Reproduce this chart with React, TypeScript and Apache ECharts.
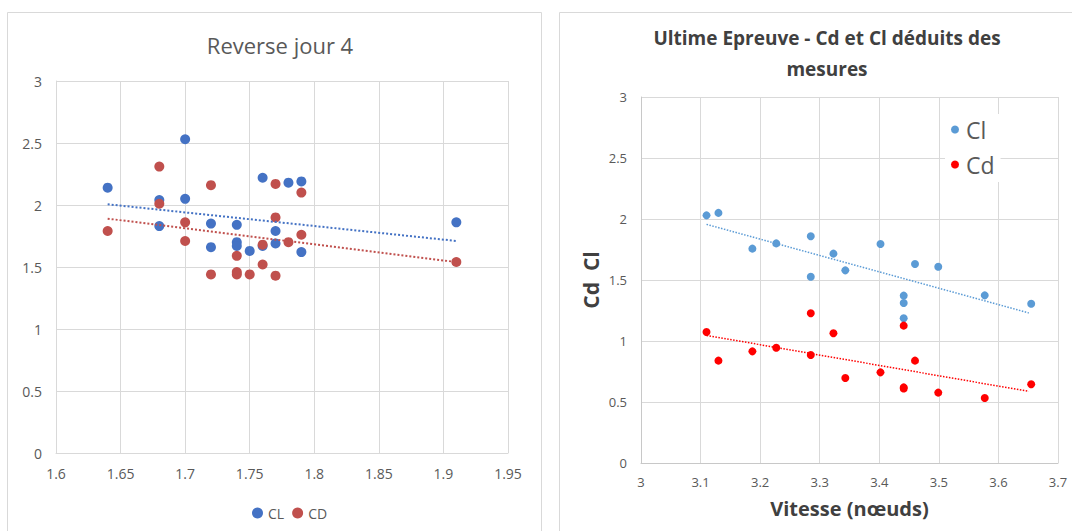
import React, { useEffect, useRef } from "react";
import * as echarts from "echarts";

// Left chart: "Reverse jour 4"
const leftClX = [1.64, 1.68, 1.68, 1.7, 1.7, 1.72, 1.72, 1.74, 1.74, 1.74, 1.75, 1.76, 1.76, 1.77, 1.77, 1.78, 1.79, 1.79, 1.91];
const leftClY = [2.14, 2.04, 1.83, 2.53, 2.05, 1.85, 1.66, 1.84, 1.7, 1.67, 1.63, 2.22, 1.67, 1.79, 1.69, 2.18, 2.19, 1.62, 1.86];
const leftCdX = [1.64, 1.68, 1.68, 1.7, 1.7, 1.72, 1.72, 1.74, 1.74, 1.74, 1.75, 1.76, 1.76, 1.77, 1.77, 1.77, 1.78, 1.79, 1.79, 1.91];
const leftCdY = [1.79, 2.31, 2.01, 1.86, 1.71, 2.16, 1.44, 1.59, 1.46, 1.44, 1.44, 1.68, 1.52, 2.17, 1.9, 1.43, 1.7, 2.1, 1.76, 1.54];
const leftClTrendX = [1.64, 1.91];
const leftClTrendY = [2.006, 1.71];
const leftCdTrendX = [1.64, 1.91];
const leftCdTrendY = [1.89, 1.54];

// Right chart: "Ultime Epreuve"
const rightClX = [3.11, 3.13, 3.187, 3.227, 3.285, 3.285, 3.323, 3.343, 3.402, 3.441, 3.441, 3.441, 3.46, 3.499, 3.577, 3.655];
const rightClY = [2.03, 2.05, 1.757, 1.8, 1.858, 1.527, 1.716, 1.579, 1.795, 1.372, 1.311, 1.186, 1.631, 1.609, 1.374, 1.306];
const rightCdX = [3.11, 3.13, 3.187, 3.227, 3.285, 3.285, 3.323, 3.343, 3.402, 3.441, 3.441, 3.441, 3.46, 3.499, 3.577, 3.655];
const rightCdY = [1.074, 0.839, 0.915, 0.945, 1.227, 0.885, 1.063, 0.697, 0.743, 1.126, 0.62, 0.61, 0.839, 0.577, 0.533, 0.645];
const rightClTrendX = [3.11, 3.651];
const rightClTrendY = [1.956, 1.23];
const rightCdTrendX = [3.11, 3.651];
const rightCdTrendY = [1.046, 0.587];

const zip = (xs: number[], ys: number[]) => xs.map((x, i) => [x, ys[i]]);

const FONT = "'Open Sans', 'DejaVu Sans', sans-serif";
const LBL = "#595959";
const GRID = "#d9d9d9";

export default function App() {
  const ref = useRef<HTMLDivElement>(null);
  useEffect(() => {
    if (!ref.current) return;
    const chart = echarts.init(ref.current, null, { renderer: "svg" });
    const fmt = (v: number) => String(parseFloat(v.toFixed(2)));
    chart.setOption({
      animation: false,
      backgroundColor: "#ffffff",
      textStyle: { fontFamily: FONT },
      graphic: [
        { type: "rect", shape: { x: 7.5, y: 12.5, width: 534, height: 540 }, style: { fill: "none", stroke: "#d9d9d9", lineWidth: 1 }, z: 0 },
        { type: "rect", shape: { x: 559.5, y: 12.5, width: 530, height: 540 }, style: { fill: "none", stroke: "#d9d9d9", lineWidth: 1 }, z: 0 },
      ],
      title: [
        {
          text: "Reverse jour 4",
          left: 275,
          top: 29,
          textAlign: "center",
          textStyle: { fontFamily: FONT, fontSize: 22, fontWeight: "normal", color: LBL },
        },
        {
          text: "Ultime Epreuve - Cd et Cl déduits des\nmesures",
          left: 822,
          top: 17,
          textAlign: "center",
          textStyle: { fontFamily: FONT, fontSize: 19, fontWeight: "bold", color: "#404040", lineHeight: 31 },
        },
      ],
      legend: [
        {
          data: ["CL", "CD"],
          left: 247,
          top: 501,
          icon: "circle",
          itemWidth: 11,
          itemHeight: 11,
          itemGap: 8,
          textStyle: { fontFamily: FONT, fontSize: 14, color: LBL },
        },
        {
          data: ["Cl", "Cd"],
          orient: "vertical",
          left: 945,
          top: 114,
          icon: "circle",
          itemWidth: 8,
          itemHeight: 8,
          itemGap: 12,
          backgroundColor: "#ffffff",
          padding: [4, 6, 6, 6],
          textStyle: { fontFamily: FONT, fontSize: 23, color: LBL, padding: [0, 0, 0, 2] },
        },
      ],
      grid: [
        { left: 56, top: 81, width: 452, height: 372, containLabel: false },
        { left: 641, top: 97, width: 417, height: 366, containLabel: false },
      ],
      xAxis: [
        {
          type: "value",
          gridIndex: 0,
          min: 1.6,
          max: 1.95,
          interval: 0.05,
          axisLine: { show: true, lineStyle: { color: GRID } },
          axisTick: { show: false },
          splitLine: { show: true, lineStyle: { color: GRID } },
          axisLabel: { color: LBL, fontSize: 14, margin: 13, fontFamily: FONT, formatter: fmt },
        },
        {
          type: "value",
          gridIndex: 1,
          min: 3,
          max: 3.7,
          interval: 0.1,
          name: "Vitesse (nœuds)",
          nameLocation: "middle",
          nameGap: 35,
          nameTextStyle: { fontFamily: FONT, fontSize: 20, fontWeight: "bold", color: "#404040" },
          axisLine: { show: true, lineStyle: { color: "#c8c8c8" } },
          axisTick: { show: false },
          splitLine: { show: true, lineStyle: { color: GRID } },
          axisLabel: { color: LBL, fontSize: 13, margin: 12, fontFamily: FONT, formatter: fmt },
        },
      ],
      yAxis: [
        {
          type: "value",
          gridIndex: 0,
          min: 0,
          max: 3,
          interval: 0.5,
          axisLine: { show: true, lineStyle: { color: GRID } },
          axisTick: { show: false },
          splitLine: { show: true, lineStyle: { color: GRID } },
          axisLabel: { color: LBL, fontSize: 14, margin: 14, fontFamily: FONT, formatter: fmt },
        },
        {
          type: "value",
          gridIndex: 1,
          min: 0,
          max: 3,
          interval: 0.5,
          name: "Cd  Cl",
          nameLocation: "middle",
          nameGap: 40,
          nameTextStyle: { fontFamily: FONT, fontSize: 21, fontWeight: "bold", color: "#404040" },
          axisLine: { show: true, lineStyle: { color: "#c8c8c8" } },
          axisTick: { show: false },
          splitLine: { show: true, lineStyle: { color: GRID } },
          axisLabel: { color: LBL, fontSize: 13, margin: 14, fontFamily: FONT, formatter: fmt },
        },
      ],
      series: [
        {
          name: "CL",
          type: "scatter",
          xAxisIndex: 0,
          yAxisIndex: 0,
          symbolSize: 10,
          itemStyle: { color: "#4472c4", opacity: 1 },
          data: zip(leftClX, leftClY),
          z: 3,
        },
        {
          name: "CD",
          type: "scatter",
          xAxisIndex: 0,
          yAxisIndex: 0,
          symbolSize: 10,
          itemStyle: { color: "#c0504d", opacity: 1 },
          data: zip(leftCdX, leftCdY),
          z: 3,
        },
        {
          name: "CL trend",
          type: "line",
          xAxisIndex: 0,
          yAxisIndex: 0,
          symbol: "none",
          lineStyle: { color: "#4472c4", width: 2, type: [2, 2] },
          data: zip(leftClTrendX, leftClTrendY),
          z: 4,
        },
        {
          name: "CD trend",
          type: "line",
          xAxisIndex: 0,
          yAxisIndex: 0,
          symbol: "none",
          lineStyle: { color: "#c0504d", width: 2, type: [2, 2] },
          data: zip(leftCdTrendX, leftCdTrendY),
          z: 4,
        },
        {
          name: "Cl",
          type: "scatter",
          xAxisIndex: 1,
          yAxisIndex: 1,
          symbolSize: 8,
          itemStyle: { color: "#5b9bd5", opacity: 1 },
          data: zip(rightClX, rightClY),
          z: 3,
        },
        {
          name: "Cd",
          type: "scatter",
          xAxisIndex: 1,
          yAxisIndex: 1,
          symbolSize: 8,
          itemStyle: { color: "#ff0000", opacity: 1 },
          data: zip(rightCdX, rightCdY),
          z: 3,
        },
        {
          name: "Cl trend",
          type: "line",
          xAxisIndex: 1,
          yAxisIndex: 1,
          symbol: "none",
          lineStyle: { color: "#5b9bd5", width: 1.5, type: [1.5, 1.5] },
          data: zip(rightClTrendX, rightClTrendY),
          z: 4,
        },
        {
          name: "Cd trend",
          type: "line",
          xAxisIndex: 1,
          yAxisIndex: 1,
          symbol: "none",
          lineStyle: { color: "#ff0000", width: 1.5, type: [1.5, 1.5] },
          data: zip(rightCdTrendX, rightCdTrendY),
          z: 4,
        },
      ],
    });
    return () => chart.dispose();
  }, []);
  return (
    <div
      ref={ref}
      style={{ position: "absolute", left: 0, top: 0, width: 1072, height: 531 }}
    />
  );
}
